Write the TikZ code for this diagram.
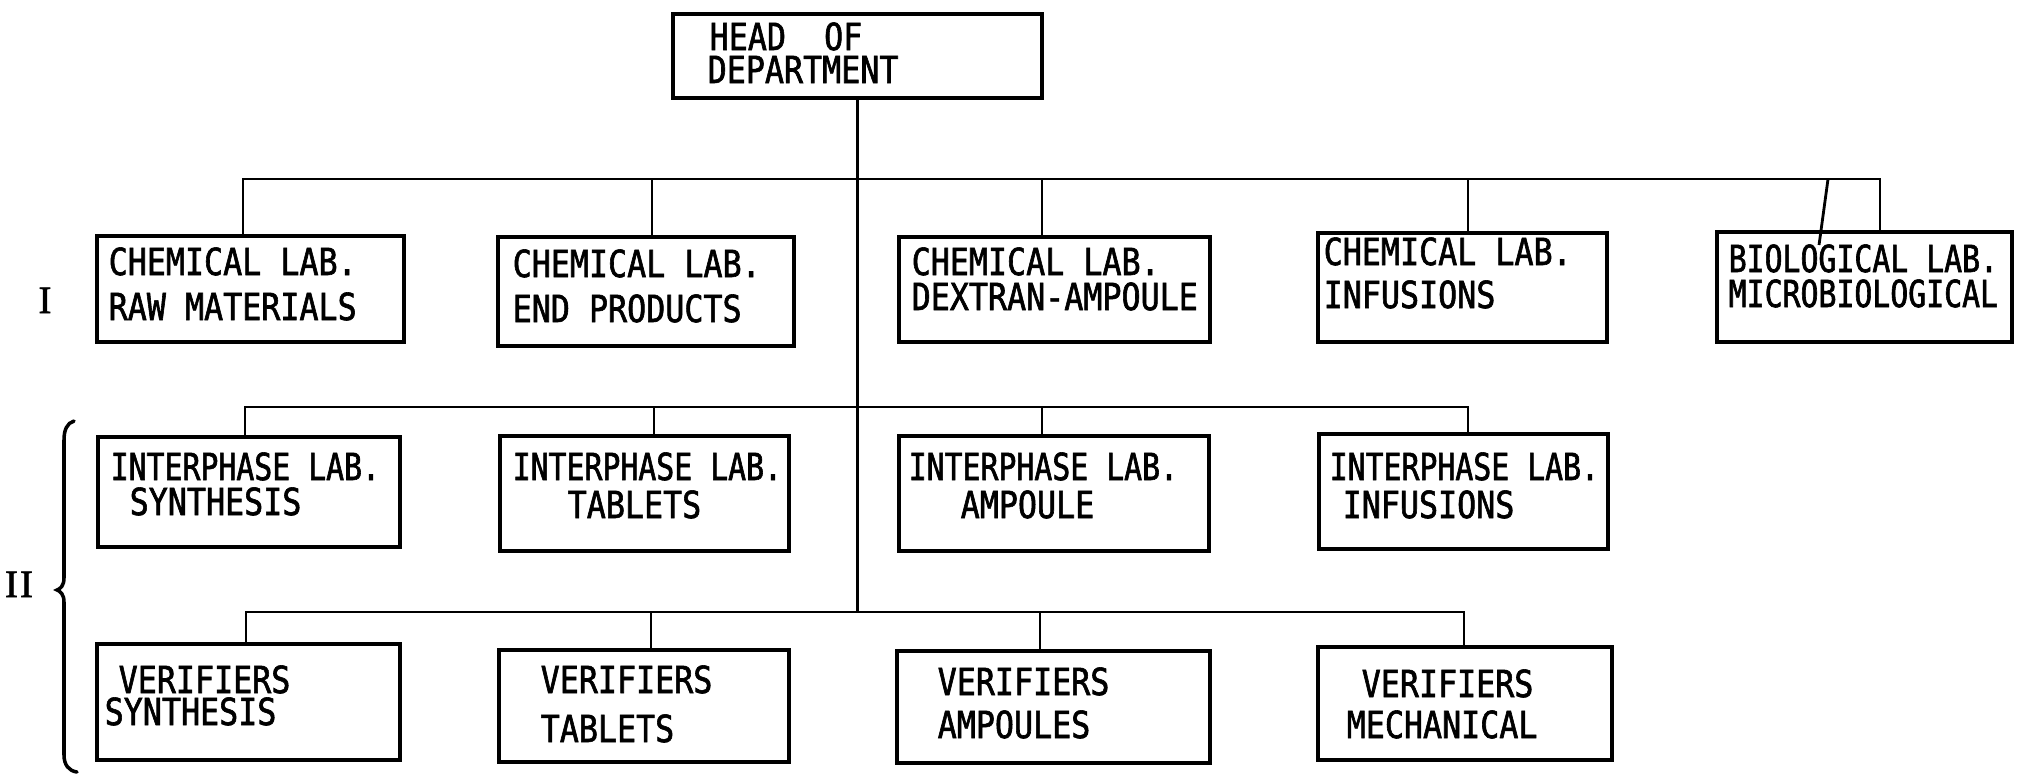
\documentclass[tikz,border=0pt]{standalone}
\usepackage{fontspec}
\newfontfamily\lettering[FakeStretch=0.85, FakeBold=1.6]{DejaVu Sans Mono}
\newfontfamily\letteringn[FakeStretch=0.80, FakeBold=1.6]{DejaVu Sans Mono}
\newfontfamily\romanfont[FakeBold=1.5]{Liberation Serif}
\begin{document}
\begin{tikzpicture}[x=0.01cm, y=-0.01cm,
  box/.style={draw, line width=1.2pt, rectangle, inner sep=0pt},
  conn/.style={line width=0.8pt},
  lbl/.style={anchor=base west, inner sep=0pt, font=\lettering\fontsize{10.6}{12}\selectfont},
  lbln/.style={anchor=base west, inner sep=0pt, font=\letteringn\fontsize{10.6}{12}\selectfont},
  rom/.style={anchor=base, inner sep=0pt, font=\romanfont\fontsize{11}{12}\selectfont},
  bracepath/.style={line width=1pt, line cap=round}]
\useasboundingbox (0,0) rectangle (2019,775);

% boxes
\node[box, minimum width=3.69cm, minimum height=0.84cm] (head) at (857.5,56) {};
\node[box, minimum width=3.07cm, minimum height=1.06cm] (c1) at (250.5,289) {};
\node[box, minimum width=2.96cm, minimum height=1.09cm] (c2) at (646,291.5) {};
\node[box, minimum width=3.11cm, minimum height=1.05cm] (c3) at (1054.5,289.5) {};
\node[box, minimum width=2.89cm, minimum height=1.09cm] (c4) at (1462.5,287.5) {};
\node[box, minimum width=2.95cm, minimum height=1.10cm] (c5) at (1864.5,287) {};
\node[box, minimum width=3.02cm, minimum height=1.10cm] (i1) at (249,492) {};
\node[box, minimum width=2.89cm, minimum height=1.15cm] (i2) at (644.5,493.5) {};
\node[box, minimum width=3.10cm, minimum height=1.15cm] (i3) at (1054,493.5) {};
\node[box, minimum width=2.89cm, minimum height=1.15cm] (i4) at (1463.5,491.5) {};
\node[box, minimum width=3.03cm, minimum height=1.16cm] (v1) at (248.5,702) {};
\node[box, minimum width=2.90cm, minimum height=1.12cm] (v2) at (644,706) {};
\node[box, minimum width=3.13cm, minimum height=1.12cm] (v3) at (1053.5,707) {};
\node[box, minimum width=2.94cm, minimum height=1.13cm] (v4) at (1465,703.5) {};

% texts
\node[lbl] (headA) at (709,50) {HEAD~~OF};
\node[lbl] (headB) at (707,83) {DEPARTMENT};
\node[lbl] (c1a) at (108,275) {CHEMICAL LAB.};
\node[lbl] (c1b) at (108,320) {RAW MATERIALS};
\node[lbl] (c2a) at (512,277) {CHEMICAL LAB.};
\node[lbl] (c2b) at (512,322) {END PRODUCTS};
\node[lbl] (c3a) at (911,275) {CHEMICAL LAB.};
\node[lbl] (c3b) at (911,310) {DEXTRAN-AMPOULE};
\node[lbl] (c4a) at (1323,265) {CHEMICAL LAB.};
\node[lbl] (c4b) at (1323,308) {INFUSIONS};
\node[lbln] (c5a) at (1728,272) {BIOLOGICAL LAB.};
\node[lbln] (c5b) at (1728,307) {MICROBIOLOGICAL};
\node[lbln] (i1a) at (110,480) {INTERPHASE LAB.};
\node[lbl] (i1b) at (129,515) {SYNTHESIS};
\node[lbln] (i2a) at (512,480) {INTERPHASE LAB.};
\node[lbl] (i2b) at (567,518) {TABLETS};
\node[lbln] (i3a) at (908,480) {INTERPHASE LAB.};
\node[lbl] (i3b) at (960,518) {AMPOULE};
\node[lbln] (i4a) at (1329,480) {INTERPHASE LAB.};
\node[lbl] (i4b) at (1342,518) {INFUSIONS};
\node[lbl] (v1a) at (118,693) {VERIFIERS};
\node[lbl] (v1b) at (104,725) {SYNTHESIS};
\node[lbl] (v2a) at (540,693) {VERIFIERS};
\node[lbl] (v2b) at (540,742) {TABLETS};
\node[lbl] (v3a) at (937,695) {VERIFIERS};
\node[lbl] (v3b) at (937,738) {AMPOULES};
\node[lbl] (v4a) at (1361,697) {VERIFIERS};
\node[lbl] (v4b) at (1346,738) {MECHANICAL};
\node[rom] (romI) at (45,313) {I};
\node[rom] (romII) at (19,597) {I\kern0.6pt I};

% bus coordinates
\coordinate (r1L) at (243,179);
\coordinate (r1R) at (1880,179);
\coordinate (d12) at (652,179);
\coordinate (d13) at (1042,179);
\coordinate (d14) at (1468,179);
\coordinate (s5a) at (1828,179);
\coordinate (s5b) at (1819,245);
\coordinate (r2L) at (245,407);
\coordinate (r2R) at (1468,407);
\coordinate (d22) at (654,407);
\coordinate (d23) at (1042,407);
\coordinate (r3L) at (246,612);
\coordinate (r3R) at (1464,612);
\coordinate (d32) at (651,612);
\coordinate (d33) at (1040,612);

% connectors
\draw[conn] (head.south) -- (head.south |- r3L);
\draw[conn] (r1L |- c1.north) -- (r1L) -- (r1R) -- (r1R |- c5.north);
\draw[conn] (d12) -- (d12 |- c2.north);
\draw[conn] (d13) -- (d13 |- c3.north);
\draw[conn] (d14) -- (d14 |- c4.north);
\draw[conn] (s5a) -- (s5b);
\draw[conn] (r2L |- i1.north) -- (r2L) -- (r2R) -- (r2R |- i4.north);
\draw[conn] (d22) -- (d22 |- i2.north);
\draw[conn] (d23) -- (d23 |- i3.north);
\draw[conn] (r3L |- v1.north) -- (r3L) -- (r3R) -- (r3R |- v4.north);
\draw[conn] (d32) -- (d32 |- v2.north);
\draw[conn] (d33) -- (d33 |- v3.north);

% brace
\draw[bracepath] (74,421) .. controls (67,423) and (64,430) .. (64,440)
  -- (64,578) .. controls (64,586) and (60,589) .. (57,590)
  .. controls (60,591) and (64,594) .. (64,602)
  -- (64,755) .. controls (64,765) and (69,771) .. (77,772);
\end{tikzpicture}
\end{document}
